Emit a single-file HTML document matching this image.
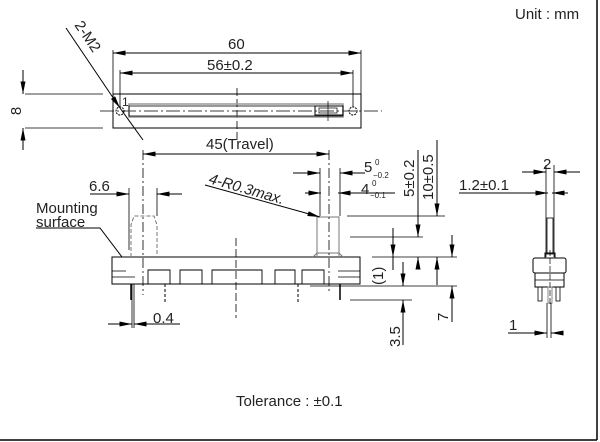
<!DOCTYPE html>
<html><head><meta charset="utf-8"><style>
html,body{margin:0;padding:0;background:#fff}
svg{display:block;font-family:"Liberation Sans",sans-serif}
</style></head><body>
<svg width="600" height="442" viewBox="0 0 600 442" xmlns="http://www.w3.org/2000/svg">
<defs>
<marker id="a" viewBox="0 0 10 4" refX="10" refY="2" markerWidth="16" markerHeight="5" orient="auto-start-reverse" markerUnits="userSpaceOnUse"><path d="M0,0L10,2L0,4z" fill="#000"/></marker>
</defs>
<g stroke="#000" fill="none" stroke-width="1">
<line x1="597" y1="0" x2="597" y2="440" stroke-width="1.5"/>
<line x1="0" y1="440" x2="597" y2="440" stroke-width="1.5"/>

<rect x="113" y="94" width="248" height="34"/>
<line x1="100" y1="111" x2="382" y2="111" stroke-dasharray="14,3,2,3" stroke-width="0.8"/>
<line x1="237" y1="88" x2="237" y2="142" stroke-dasharray="8,3" stroke-width="0.8"/>
<rect x="129" y="104" width="214" height="13" stroke="#999" stroke-width="1.5"/>
<rect x="129" y="106" width="214" height="10" stroke-width="0.8"/>
<rect x="315" y="106" width="28" height="9"/>
<rect x="319" y="108" width="18" height="5" stroke-width="0.7"/>
<line x1="328" y1="101" x2="328" y2="121" stroke-width="0.7"/>
<circle cx="120" cy="111" r="4" stroke-dasharray="2,1"/>
<circle cx="353" cy="111" r="4" stroke-dasharray="2,1"/>
<line x1="113" y1="50" x2="113" y2="94" stroke-width="0.8"/>
<line x1="361" y1="50" x2="361" y2="94" stroke-width="0.8"/>
<line x1="113" y1="53" x2="361" y2="53" marker-start="url(#a)" marker-end="url(#a)"/>
<line x1="120" y1="70" x2="120" y2="107" stroke-width="0.8"/>
<line x1="353" y1="70" x2="353" y2="107" stroke-width="0.8"/>
<line x1="120" y1="73" x2="353" y2="73" marker-start="url(#a)" marker-end="url(#a)"/>
<line x1="25" y1="94" x2="103" y2="94" stroke-width="0.8"/>
<line x1="25" y1="128" x2="103" y2="128" stroke-width="0.8"/>
<line x1="23" y1="70" x2="23" y2="94" marker-end="url(#a)"/>
<line x1="23" y1="150" x2="23" y2="128" marker-end="url(#a)"/>
<line x1="66" y1="28" x2="120" y2="108" marker-end="url(#a)"/>
<line x1="120" y1="108" x2="143" y2="140"/>

<path d="M112,257 H360 V284 H112 Z"/>
<path d="M112,271 H126 M112,277 H135 M338,271 H360 M338,277 H360" stroke-width="0.8"/>
<path d="M148,284 V270 h22 v14 M180,284 V270 h22 v14 M212,284 V270 h50 v14 M275,284 V270 h20 v14 M302,284 V270 h22 v14" stroke-width="0.9"/>
<path d="M131,257 V225 l3,-9 h20 l3,9 V257" stroke="#777" stroke-dasharray="4,2"/>
<path d="M317,257 V217 h22 V257" stroke="#777"/>
<path d="M313,257 l4,-4 h22 l4,4" stroke="#777"/>
<line x1="143" y1="150" x2="143" y2="295" stroke-dasharray="10,3,2,3" stroke-width="0.8"/>
<line x1="329" y1="150" x2="329" y2="292" stroke-dasharray="10,3,2,3" stroke-width="0.8"/>
<line x1="236" y1="238" x2="236" y2="318" stroke-dasharray="8,3" stroke-width="0.8"/>
<line x1="131" y1="284" x2="131" y2="300" stroke-width="1.5"/>
<line x1="340" y1="284" x2="340" y2="300" stroke-width="1.5"/>
<line x1="165" y1="284" x2="165" y2="302" stroke-dasharray="3,2"/>
<line x1="298" y1="284" x2="298" y2="302" stroke-dasharray="3,2"/>
<line x1="143" y1="154" x2="329" y2="154" marker-start="url(#a)" marker-end="url(#a)"/>
<line x1="129" y1="188" x2="129" y2="250" stroke-width="0.8"/>
<line x1="157" y1="188" x2="157" y2="216" stroke-width="0.8"/>
<line x1="90" y1="194" x2="129" y2="194" marker-end="url(#a)"/>
<line x1="182" y1="194" x2="157" y2="194" marker-end="url(#a)"/>
<path d="M36,228 H100 L122,257" />
<line x1="320" y1="168" x2="320" y2="216" stroke-width="0.8"/>
<line x1="340" y1="168" x2="340" y2="216" stroke-width="0.8"/>
<line x1="293" y1="173" x2="320" y2="173" marker-end="url(#a)"/>
<line x1="365" y1="173" x2="340" y2="173" marker-end="url(#a)"/>
<line x1="305" y1="193" x2="321" y2="193" marker-end="url(#a)"/>
<line x1="395" y1="193" x2="338" y2="193" marker-end="url(#a)"/>
<line x1="205" y1="185" x2="320" y2="217" marker-end="url(#a)"/>
<line x1="347" y1="216" x2="445" y2="216" stroke-width="0.8"/>
<line x1="350" y1="237" x2="423" y2="237" stroke-width="0.8"/>
<line x1="372" y1="257" x2="457" y2="257" stroke-width="0.8"/>
<line x1="310" y1="286" x2="457" y2="286" stroke-width="0.8"/>
<line x1="350" y1="300" x2="412" y2="300" stroke-width="0.8"/>
<line x1="418" y1="200" x2="418" y2="237" marker-end="url(#a)"/>
<line x1="418" y1="268" x2="418" y2="257" marker-end="url(#a)"/>
<line x1="418" y1="150" x2="418" y2="200"/>
<line x1="437" y1="140" x2="437" y2="216" marker-end="url(#a)"/>
<line x1="437" y1="285" x2="437" y2="257" marker-end="url(#a)"/>
<line x1="393" y1="228" x2="393" y2="257" marker-end="url(#a)"/>
<line x1="393" y1="270" x2="393" y2="257"/>
<line x1="403" y1="262" x2="403" y2="286" marker-end="url(#a)"/>
<line x1="403" y1="345" x2="403" y2="300" marker-end="url(#a)"/>
<line x1="452" y1="235" x2="452" y2="257" marker-end="url(#a)"/>
<line x1="452" y1="322" x2="452" y2="286" marker-end="url(#a)"/>
<line x1="132" y1="284" x2="132" y2="328" stroke-width="0.8"/>
<line x1="134" y1="284" x2="134" y2="328" stroke-width="0.8"/>
<line x1="108" y1="324" x2="132" y2="324" marker-end="url(#a)"/>
<line x1="180" y1="324" x2="134" y2="324" marker-end="url(#a)"/>

<line x1="546" y1="165" x2="546" y2="257" stroke-width="0.8"/>
<line x1="554" y1="165" x2="554" y2="257" stroke-width="0.8"/>
<line x1="522" y1="172" x2="546" y2="172" marker-end="url(#a)"/>
<line x1="580" y1="172" x2="554" y2="172" marker-end="url(#a)"/>
<line x1="459" y1="193" x2="548" y2="193" marker-end="url(#a)"/>
<line x1="568" y1="193" x2="552" y2="193" marker-end="url(#a)"/>
<rect x="547" y="218" width="6" height="36" stroke-width="0.8"/>
<rect x="545" y="253" width="10" height="5"/>
<rect x="533" y="258" width="33" height="15" rx="2"/>
<rect x="535" y="273" width="29" height="14"/>
<line x1="535" y1="280" x2="564" y2="280" stroke-width="0.7"/>
<rect x="538" y="287" width="4" height="14" stroke-width="0.8"/>
<rect x="548" y="287" width="4" height="16" stroke="#888"/>
<rect x="556" y="287" width="4" height="14" stroke-width="0.8"/>
<line x1="550" y1="250" x2="550" y2="305" stroke-dasharray="6,2" stroke-width="0.7"/>
<line x1="547" y1="303" x2="547" y2="338" stroke-width="0.8"/>
<line x1="551" y1="303" x2="551" y2="338" stroke-width="0.8"/>
<line x1="508" y1="333" x2="547" y2="333" marker-end="url(#a)"/>
<line x1="563" y1="333" x2="551" y2="333" marker-end="url(#a)"/>
</g>

<g fill="#222" font-size="15">
<text x="515" y="19">Unit : mm</text>
<text x="228" y="49">60</text>
<text x="207" y="70">56±0.2</text>
<text x="122" y="106" font-size="12">1</text>
<text transform="translate(21,111) rotate(-90)" text-anchor="middle">8</text>
<text transform="translate(74,25) rotate(56)">2-M2</text>
<text x="206" y="149">45(Travel)</text>
<text x="89" y="191">6.6</text>
<text x="36" y="213">Mounting</text>
<text x="36" y="227">surface</text>
<text x="364" y="172">5</text>
<text x="375" y="165" font-size="8">0</text>
<text x="373" y="178" font-size="8">−0.2</text>
<text x="361" y="194">4</text>
<text x="372" y="186" font-size="8">0</text>
<text x="370" y="198" font-size="8">−0.1</text>
<text transform="translate(208,183) rotate(16)" font-style="italic">4-R0.3max.</text>
<text transform="translate(414,197) rotate(-90)">5±0.2</text>
<text transform="translate(433,200) rotate(-90)">10±0.5</text>
<text transform="translate(383,285) rotate(-90)">(1)</text>
<text transform="translate(400,347) rotate(-90)">3.5</text>
<text transform="translate(448,321) rotate(-90)">7</text>
<text x="153" y="323">0.4</text>
<text x="543" y="169">2</text>
<text x="459" y="190">1.2±0.1</text>
<text x="509" y="330">1</text>
<text x="236" y="406">Tolerance : ±0.1</text>
</g>
</svg>
</body></html>
